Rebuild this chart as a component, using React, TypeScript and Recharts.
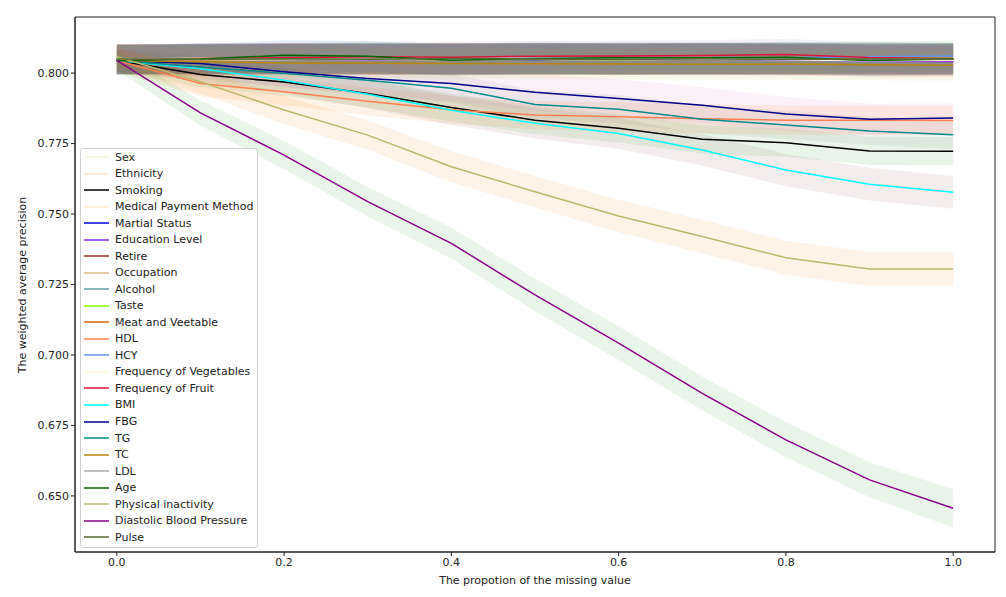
import React from "react"
import {
  ComposedChart,
  Line,
  Area,
  XAxis,
  YAxis,
  ReferenceArea,
} from "recharts"

// proportion of missing values (x axis)
const proportions = [0, 0.1, 0.2, 0.3, 0.4, 0.5, 0.6, 0.7, 0.8, 0.9, 1.0]

const xTicks = [0, 0.2, 0.4, 0.6, 0.8, 1.0]
const yTicks = [0.65, 0.675, 0.7, 0.725, 0.75, 0.775, 0.8]

const featureNames = [
  "Sex",
  "Ethnicity",
  "Smoking",
  "Medical Payment Method",
  "Martial Status",
  "Education Level",
  "Retire",
  "Occupation",
  "Alcohol",
  "Taste",
  "Meat and Veetable",
  "HDL",
  "HCY",
  "Frequency of Vegetables",
  "Frequency of Fruit",
  "BMI",
  "FBG",
  "TG",
  "TC",
  "LDL",
  "Age",
  "Physical inactivity",
  "Diastolic Blood Pressure",
  "Pulse",
]

const lineColors = [
  "#F5F5DC", "#FFE4C4", "#000000", "#FFEBCD", "#0000FF", "#8A2BE2",
  "#A52A2A", "#DEB887", "#5F9EA0", "#7FFF00", "#D2691E", "#FF7F50",
  "#6495ED", "#FFF8DC", "#DC143C", "#00FFFF", "#00008B", "#008B8B",
  "#B8860B", "#A9A9A9", "#006400", "#BDB76B", "#8B008B", "#556B2F",
]

// shaded bands use the default cycle
const bandColors = [
  "#1f77b4", "#ff7f0e", "#2ca02c", "#d62728", "#9467bd",
  "#8c564b", "#e377c2", "#7f7f7f", "#bcbd22", "#17becf",
]

// mean weighted average precision per feature
const sex = [0.8048, 0.8052, 0.8050, 0.8055, 0.8050, 0.8052, 0.8049, 0.8053, 0.8050, 0.8051, 0.8049]
const ethnicity = [0.8050, 0.8046, 0.8048, 0.8051, 0.8053, 0.8049, 0.8047, 0.8050, 0.8052, 0.8048, 0.8050]
const smoking = [0.8045, 0.7995, 0.7968, 0.7928, 0.7878, 0.7833, 0.7804, 0.7765, 0.7753, 0.7724, 0.7723]
const medicalPayment = [0.8049, 0.8053, 0.8051, 0.8047, 0.8050, 0.8054, 0.8051, 0.8049, 0.8053, 0.8050, 0.8052]
const martialStatus = [0.8047, 0.8050, 0.8052, 0.8049, 0.8051, 0.8048, 0.8052, 0.8050, 0.8047, 0.8051, 0.8049]
const educationLevel = [0.8048, 0.8049, 0.8051, 0.8047, 0.8050, 0.8049, 0.8052, 0.8050, 0.8048, 0.8042, 0.8041]
const retire = [0.8049, 0.8051, 0.8050, 0.8052, 0.8048, 0.8051, 0.8050, 0.8049, 0.8052, 0.8050, 0.8048]
const occupation = [0.8046, 0.8050, 0.8053, 0.8050, 0.8047, 0.8050, 0.8053, 0.8051, 0.8049, 0.8052, 0.8050]
const alcohol = [0.8050, 0.8048, 0.8050, 0.8053, 0.8051, 0.8049, 0.8050, 0.8052, 0.8050, 0.8049, 0.8051]
const taste = [0.8048, 0.8051, 0.8049, 0.8050, 0.8052, 0.8050, 0.8048, 0.8051, 0.8052, 0.8056, 0.8052]
const meatVegetable = [0.8049, 0.8047, 0.8050, 0.8052, 0.8049, 0.8051, 0.8050, 0.8048, 0.8051, 0.8049, 0.8050]
const hdl = [0.8045, 0.7963, 0.7934, 0.7900, 0.7870, 0.7851, 0.7845, 0.7838, 0.7833, 0.7833, 0.7832]
const hcy = [0.8049, 0.8051, 0.8050, 0.8052, 0.8050, 0.8053, 0.8051, 0.8052, 0.8054, 0.8058, 0.8061]
const freqVegetables = [0.8050, 0.8049, 0.8051, 0.8050, 0.8048, 0.8051, 0.8049, 0.8050, 0.8047, 0.8044, 0.8046]
const freqFruit = [0.8047, 0.8052, 0.8054, 0.8058, 0.8056, 0.8060, 0.8061, 0.8062, 0.8066, 0.8055, 0.8052]
const bmi = [0.8045, 0.8015, 0.7975, 0.7925, 0.7868, 0.7822, 0.7786, 0.7727, 0.7656, 0.7606, 0.7577]
const fbg = [0.8045, 0.8034, 0.8005, 0.7981, 0.7963, 0.7932, 0.7910, 0.7886, 0.7855, 0.7836, 0.7841]
const tg = [0.8045, 0.8022, 0.7999, 0.7975, 0.7946, 0.7889, 0.7872, 0.7836, 0.7816, 0.7795, 0.7781]
const tc = [0.8045, 0.8040, 0.8036, 0.8035, 0.8034, 0.8033, 0.8032, 0.8031, 0.8032, 0.8030, 0.8028]
const ldl = [0.8049, 0.8050, 0.8048, 0.8051, 0.8050, 0.8052, 0.8049, 0.8051, 0.8050, 0.8048, 0.8050]
const age = [0.8045, 0.8050, 0.8063, 0.8060, 0.8046, 0.8052, 0.8054, 0.8054, 0.8056, 0.8045, 0.8050]
const physicalInactivity = [0.8058, 0.7969, 0.7869, 0.7780, 0.7668, 0.7579, 0.7493, 0.7420, 0.7345, 0.7305, 0.7305]
const diastolicBP = [0.8045, 0.7859, 0.7709, 0.7544, 0.7396, 0.7213, 0.7042, 0.6864, 0.6699, 0.6557, 0.6456]
const pulse = [0.8050, 0.8048, 0.8051, 0.8049, 0.8052, 0.8050, 0.8048, 0.8051, 0.8049, 0.8050, 0.8049]

// standard deviation (half width of the shaded band)
const flatStd = [0.0052, 0.0053, 0.0054, 0.0054, 0.0055, 0.0055, 0.0055, 0.0055, 0.0055, 0.0055, 0.0055]
const smokingStd = [0.0040, 0.0045, 0.0048, 0.0050, 0.0050, 0.0050, 0.0050, 0.0050, 0.0050, 0.0050, 0.0050]
const hdlStd = [0.0040, 0.0045, 0.0048, 0.0050, 0.0050, 0.0050, 0.0052, 0.0052, 0.0052, 0.0052, 0.0052]
const bmiStd = [0.0040, 0.0045, 0.0048, 0.0050, 0.0052, 0.0054, 0.0055, 0.0056, 0.0057, 0.0058, 0.0058]
const fbgStd = [0.0045, 0.0050, 0.0055, 0.0060, 0.0062, 0.0065, 0.0068, 0.0065, 0.0060, 0.0055, 0.0052]
const tgStd = [0.0040, 0.0045, 0.0048, 0.0050, 0.0050, 0.0050, 0.0050, 0.0050, 0.0050, 0.0050, 0.0050]
const physicalStd = [0.0035, 0.0042, 0.0050, 0.0052, 0.0055, 0.0056, 0.0058, 0.0060, 0.0060, 0.0060, 0.0060]
const diastolicStd = [0.0035, 0.0045, 0.0050, 0.0052, 0.0055, 0.0058, 0.0060, 0.0060, 0.0062, 0.0062, 0.0068]

const featureMeans = [
  sex, ethnicity, smoking, medicalPayment, martialStatus, educationLevel,
  retire, occupation, alcohol, taste, meatVegetable, hdl,
  hcy, freqVegetables, freqFruit, bmi, fbg, tg,
  tc, ldl, age, physicalInactivity, diastolicBP, pulse,
]

const featureStds = [
  flatStd, flatStd, smokingStd, flatStd, flatStd, flatStd,
  flatStd, flatStd, flatStd, flatStd, flatStd, hdlStd,
  flatStd, flatStd, flatStd, bmiStd, fbgStd, tgStd,
  flatStd, flatStd, flatStd, physicalStd, diastolicStd, flatStd,
]

const chartData = proportions.map((p, i) => {
  const row: any = { p }
  featureMeans.forEach((vals, k) => {
    row[`m${k}`] = vals[i]
    row[`b${k}`] = [vals[i] - featureStds[k][i], vals[i] + featureStds[k][i]]
  })
  return row
})

const FONT = "'DejaVu Sans', sans-serif"
const Y_MIN = 0.6301
const Y_MAX = 0.8199

export default function App() {
  const series: React.ReactNode[] = []
  featureNames.forEach((name, k) => {
    series.push(
      <Line
        key={`line-${k}`}
        type="linear"
        dataKey={`m${k}`}
        name={name}
        stroke={lineColors[k]}
        strokeWidth={1.5}
        dot={false}
        activeDot={false}
        isAnimationActive={false}
      />
    )
    series.push(
      <Area
        key={`band-${k}`}
        type="linear"
        dataKey={`b${k}`}
        stroke="none"
        fill={bandColors[k % bandColors.length]}
        fillOpacity={0.1}
        dot={false}
        activeDot={false}
        legendType="none"
        isAnimationActive={false}
      />
    )
  })

  return (
    <div style={{ position: "absolute", left: 0, top: 0, width: 1006, height: 597, background: "#fff", fontFamily: FONT }}>
      <ComposedChart
        width={1006}
        height={597}
        data={chartData}
        margin={{ top: 17, right: 11, bottom: 0, left: 0 }}
      >
        <XAxis
          dataKey="p"
          type="number"
          domain={[-0.05, 1.05]}
          ticks={xTicks}
          tickFormatter={(v: number) => v.toFixed(1)}
          height={45}
          tickSize={4}
          stroke="#222"
          tick={{ fill: "#222", fontSize: 11, fontFamily: FONT }}
          allowDataOverflow
        />
        <YAxis
          type="number"
          domain={[Y_MIN, Y_MAX]}
          ticks={yTicks}
          tickFormatter={(v: number) => v.toFixed(3)}
          width={75}
          tickSize={4}
          stroke="#222"
          tick={{ fill: "#222", fontSize: 11, fontFamily: FONT }}
          allowDataOverflow
        />
        {series}
        <ReferenceArea
          x1={-0.05}
          x2={1.05}
          y1={Y_MIN}
          y2={Y_MAX}
          fill="none"
          stroke="#222"
          strokeWidth={1}
        />
      </ComposedChart>

      {/* axis titles */}
      <div style={{ position: "absolute", left: 0, top: 574, width: 1070, textAlign: "center", fontSize: 11, color: "#222" }}>
        The propotion of the missing value
      </div>
      <div
        style={{
          position: "absolute",
          left: 22,
          top: 285,
          transform: "translate(-50%, -50%) rotate(-90deg)",
          whiteSpace: "nowrap",
          fontSize: 11,
          color: "#222",
        }}
      >
        The weighted average precision
      </div>

      {/* legend */}
      <div
        style={{
          position: "absolute",
          left: 80,
          top: 148,
          width: 176,
          height: 398,
          background: "rgba(255,255,255,0.8)",
          border: "1px solid #d0d0d0",
          borderRadius: 3,
        }}
      >
        {featureNames.map((name, k) => (
          <div key={name} style={{ display: "flex", alignItems: "center", height: 16.52, fontSize: 11, color: "#222" }}>
            <svg width={34} height={10} style={{ flex: "none" }}>
              <line x1={3} x2={28} y1={5} y2={5} stroke={lineColors[k]} strokeWidth={1.5} />
            </svg>
            <span style={{ whiteSpace: "nowrap" }}>{name}</span>
          </div>
        ))}
      </div>
    </div>
  )
}
